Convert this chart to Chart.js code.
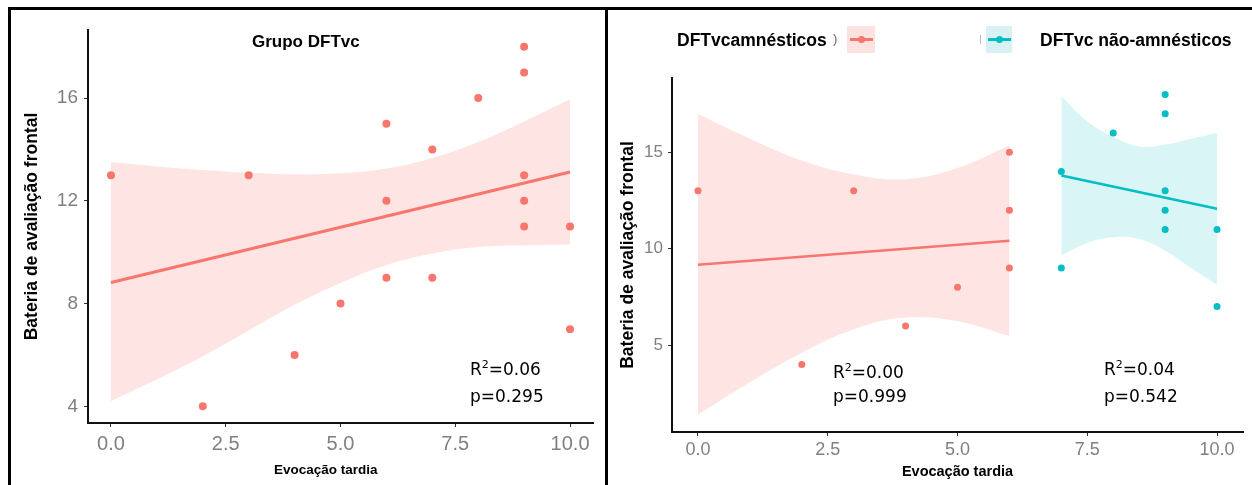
<!DOCTYPE html>
<html>
<head>
<meta charset="utf-8">
<script src="https://cdn.jsdelivr.net/npm/chart.js@4.4.1/dist/chart.umd.min.js"></script>
<style>
  body { margin: 0; background: #fff; }
  #wrap { position: relative; width: 1252px; height: 485px; overflow: hidden; background: #fff; }
  canvas { position: absolute; top: 0; }
  .txt { position: absolute; white-space: nowrap; color: #000; }
  .bold { font-family: "Liberation Sans", Arial, sans-serif; font-weight: bold; }
  .stat { font-family: "DejaVu Sans", sans-serif; font-size: 17px; line-height: 20px; }
  .frame { position: absolute; background: #000; }
</style>
</head>
<body>
<div id="wrap">
  <canvas id="leftChart" style="left:0px"></canvas>
  <canvas id="rightChart" style="left:608px"></canvas>

  <!-- frame lines -->
  <div class="frame" style="left:8px; top:7px; width:1244px; height:3px;"></div>
  <div class="frame" style="left:8px; top:7px; width:3px; height:478px;"></div>
  <div class="frame" style="left:605px; top:7px; width:3px; height:478px;"></div>

  <!-- left panel texts -->
  <div class="txt bold" style="left:252px; top:32px; font-size:17px; line-height:19px;">Grupo DFTvc</div>
  <div class="txt bold" style="left:274px; top:462px; font-size:13.5px; line-height:16px;">Evocação tardia</div>
  <div class="txt stat" style="left:470px; top:359px;">R<sup style="font-size:11px; line-height:0;">2</sup>=0.06</div>
  <div class="txt stat" style="left:470px; top:386px;">p=0.295</div>

  <!-- right panel legend -->
  <div class="txt bold" style="left:677px; top:30px; font-size:17.5px; line-height:20px;">DFTvcamnésticos</div>
  <div class="txt" style="left:833px; top:31px; font-family:'Liberation Sans'; font-size:13px; color:#666;">)</div>
  <div style="position:absolute; left:847px; top:26px; width:28px; height:27px; background:#fce3e1;"></div>
  <div style="position:absolute; left:850px; top:38px; width:23px; height:2.5px; background:#f8766d;"></div>
  <div style="position:absolute; left:858px; top:36px; width:7px; height:7px; border-radius:50%; background:#f8766d;"></div>
  <div style="position:absolute; left:980px; top:35px; width:1px; height:9px; background:#bbb;"></div>
  <div style="position:absolute; left:986px; top:26px; width:26px; height:27px; background:#d8f2f3;"></div>
  <div style="position:absolute; left:988px; top:38px; width:23px; height:2.5px; background:#00bfc4;"></div>
  <div style="position:absolute; left:996px; top:36px; width:7px; height:7px; border-radius:50%; background:#00bfc4;"></div>
  <div class="txt bold" style="left:1040px; top:30px; font-size:17.5px; line-height:20px;">DFTvc não-amnésticos</div>

  <div class="txt stat" style="left:833px; top:362px;">R<sup style="font-size:11px; line-height:0;">2</sup>=0.00</div>
  <div class="txt stat" style="left:833px; top:386px;">p=0.999</div>
  <div class="txt stat" style="left:1104px; top:359px;">R<sup style="font-size:11px; line-height:0;">2</sup>=0.04</div>
  <div class="txt stat" style="left:1104px; top:386px;">p=0.542</div>
</div>

<script>
// Axis ticks
const xTickValues = [0, 2.5, 5, 7.5, 10];
const xTickLabels = ['0.0', '2.5', '5.0', '7.5', '10.0'];
const leftYTicks = [4, 8, 12, 16];
const rightYTicks = [5, 10, 15];

// Grupo DFTvc (all patients)
const allX = [0, 2, 3, 4, 5, 6, 6, 6, 7, 7, 8, 9, 9, 9, 9, 9, 10, 10];
const allY = [13, 4, 13, 6, 8, 15, 12, 9, 14, 9, 16, 18, 17, 13, 12, 11, 11, 7];
const allFitX = [0, 10];
const allFitY = [8.82, 13.12];
const allBandX = [0, 1, 2, 3, 4, 5, 6, 7, 8, 9, 10];
const allBandUpper = [13.5, 13.34, 13.2, 13.09, 13.03, 13.07, 13.26, 13.67, 14.29, 15.09, 15.95];
const allBandLower = [4.2, 5.05, 5.95, 6.95, 7.95, 8.8, 9.5, 9.95, 10.2, 10.27, 10.3];

// DFTvc amnésticos
const amnX = [0, 2, 3, 4, 5, 6, 6, 6];
const amnY = [13, 4, 13, 6, 8, 15, 12, 9];
const amnFitX = [0, 6];
const amnFitY = [9.17, 10.41];
const amnBandX = [0, 1, 2, 3, 4, 5, 6];
const amnBandUpper = [16.98, 15.7, 14.57, 13.85, 13.6, 14.18, 15.35];
const amnBandLower = [1.4, 3.08, 4.61, 5.83, 6.43, 6.24, 5.47];

// DFTvc não-amnésticos
const naX = [7, 7, 8, 9, 9, 9, 9, 9, 10, 10];
const naY = [14, 9, 16, 18, 17, 13, 12, 11, 11, 7];
const naFitX = [7, 10];
const naFitY = [13.8, 12.07];
const naBandX = [7, 7.5, 8, 8.5, 9, 9.5, 10];
const naBandUpper = [17.9, 16.6, 15.8, 15.3, 15.4, 15.7, 16.0];
const naBandLower = [9.65, 10.3, 10.6, 10.5, 9.9, 9.0, 8.13];

const RED = '#f8766d';
const RED_BAND = 'rgba(248,118,109,0.2)';
const CYAN = '#00bfc4';
const CYAN_BAND = 'rgba(0,191,196,0.15)';

function toPoints(xs, ys) {
    return xs.map((x, i) => ({ x: x, y: ys[i] }));
}

// Band = upper curve filled down to the lower curve (next dataset)
function bandDatasets(xs, upper, lower, color) {
    return [
        { data: toPoints(xs, upper), showLine: true, pointRadius: 0, borderWidth: 0, tension: 0.4, fill: '+1', backgroundColor: color, order: 3 },
        { data: toPoints(xs, lower), showLine: true, pointRadius: 0, borderWidth: 0, tension: 0.4, fill: false, order: 3 }
    ];
}

function fitDataset(xs, ys, color, width) {
    return { data: toPoints(xs, ys), showLine: true, pointRadius: 0, borderColor: color, borderWidth: width, fill: false, order: 2 };
}

function pointDataset(xs, ys, color, radius) {
    return { data: toPoints(xs, ys), showLine: false, pointRadius: radius, pointBackgroundColor: color, pointBorderWidth: 0, order: 1 };
}

function buildScales(cfg) {
    return {
        x: {
            type: 'linear', min: -0.5, max: 10.5,
            afterBuildTicks: axis => { axis.ticks = xTickValues.map(v => ({ value: v })); },
            afterFit: axis => { axis.height = cfg.xHeight; },
            ticks: {
                color: '#808080', padding: cfg.xTickPad, maxRotation: 0,
                font: { family: 'Liberation Sans', size: cfg.xTickSize },
                callback: v => xTickLabels[xTickValues.indexOf(v)]
            },
            grid: { drawOnChartArea: false, drawTicks: true, tickLength: 4, color: '#333', tickWidth: 1 },
            border: { display: true, color: '#111', width: 2 },
            title: cfg.xTitle ? {
                display: true, text: 'Evocação tardia', color: '#000',
                font: { family: 'Liberation Sans', weight: 'bold', size: 14.5 },
                padding: { top: 0, bottom: cfg.xTitlePad }
            } : { display: false }
        },
        y: {
            type: 'linear', min: cfg.yMin, max: cfg.yMax,
            afterBuildTicks: axis => { axis.ticks = cfg.yTicks.map(v => ({ value: v })); },
            afterFit: axis => { axis.width = cfg.yWidth; },
            ticks: {
                color: '#808080', padding: cfg.yTickPad,
                font: { family: 'Liberation Sans', size: cfg.yTickSize }
            },
            grid: { drawOnChartArea: false, drawTicks: true, tickLength: 4, color: '#333', tickWidth: 1 },
            border: { display: true, color: '#111', width: 2 },
            title: {
                display: true, text: 'Bateria de avaliação frontal', color: '#000',
                font: { family: 'Liberation Sans', weight: 'bold', size: cfg.yTitleSize },
                padding: { top: cfg.yTitlePad, bottom: 0 }
            }
        }
    };
}

function makeChart(id, width, datasets, padding, scaleCfg) {
    const canvas = document.getElementById(id);
    canvas.width = width;
    canvas.height = 485;
    canvas.style.width = width + 'px';
    canvas.style.height = '485px';
    return new Chart(canvas, {
        type: 'scatter',
        data: { datasets: datasets },
        options: {
            responsive: false,
            animation: false,
            devicePixelRatio: 1,
            layout: { padding: padding },
            plugins: { legend: { display: false }, tooltip: { enabled: false } },
            scales: buildScales(scaleCfg)
        }
    });
}

makeChart('leftChart', 604, [
    pointDataset(allX, allY, RED, 4),
    fitDataset(allFitX, allFitY, RED, 3),
    ...bandDatasets(allBandX, allBandUpper, allBandLower, RED_BAND)
], { left: 0, right: 11, top: 30, bottom: 0 }, {
    yMin: 3.35, yMax: 18.65, yTicks: leftYTicks,
    xHeight: 62, yWidth: 88, xTickPad: 5, yTickPad: 6,
    xTickSize: 20, yTickSize: 19, xTitle: false,
    yTitleSize: 17.5, yTitlePad: 22
});

makeChart('rightChart', 644, [
    pointDataset(amnX, amnY, RED, 3.5),
    pointDataset(naX, naY, CYAN, 3.5),
    fitDataset(amnFitX, amnFitY, RED, 2.5),
    fitDataset(naFitX, naFitY, CYAN, 2.5),
    ...bandDatasets(amnBandX, amnBandUpper, amnBandLower, RED_BAND),
    ...bandDatasets(naBandX, naBandUpper, naBandLower, CYAN_BAND)
], { left: 0, right: 9, top: 78, bottom: 0 }, {
    yMin: 0.5, yMax: 18.85, yTicks: rightYTicks,
    xHeight: 53, yWidth: 64, xTickPad: 3, yTickPad: 5,
    xTickSize: 18, yTickSize: 17, xTitle: true, xTitlePad: 4,
    yTitleSize: 17.5, yTitlePad: 10
});
</script>
</body>
</html>
